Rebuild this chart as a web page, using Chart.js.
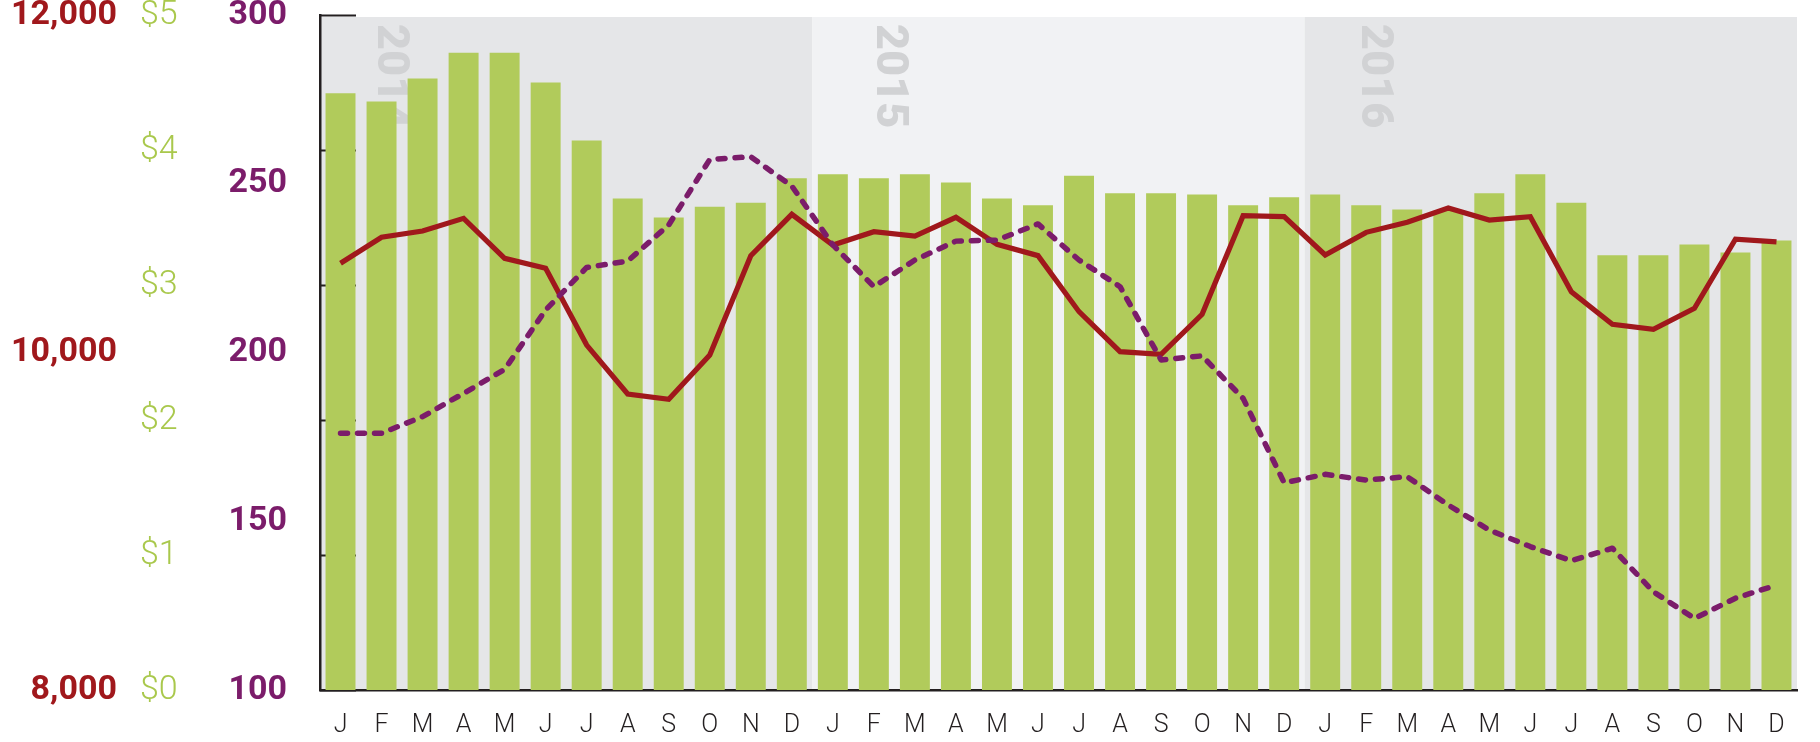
<!DOCTYPE html>
<html lang="en">
<head>
    <meta charset="UTF-8">
    <title>Monthly volume, price and index 2014-2016</title>
    <script src="https://cdn.jsdelivr.net/npm/chart.js"></script>
    <style>
        html, body { margin: 0; padding: 0; background: #ffffff; }
        #chart { display: block; }
    </style>
</head>
<body>
    <canvas id="chart" width="1820" height="742"></canvas>

    <script>
        // data
        const years = ['2014', '2015', '2016'];
        const monthLetters = [
            'J','F','M','A','M','J','J','A','S','O','N','D',
            'J','F','M','A','M','J','J','A','S','O','N','D',
            'J','F','M','A','M','J','J','A','S','O','N','D'
        ];
        const priceBars = [
            4.42, 4.36, 4.53, 4.72, 4.72, 4.50, 4.07, 3.64, 3.50, 3.58, 3.61, 3.79,
            3.82, 3.79, 3.82, 3.76, 3.64, 3.59, 3.81, 3.68, 3.68, 3.67, 3.59, 3.65,
            3.67, 3.59, 3.56, 3.55, 3.68, 3.82, 3.61, 3.22, 3.22, 3.30, 3.24, 3.33
        ];
        const unitsLine = [
            10529, 10683, 10720, 10795, 10558, 10499, 10044, 9754, 9723, 9985, 10574, 10819,
            10637, 10716, 10690, 10801, 10641, 10574, 10242, 10005, 9989, 10226, 10811, 10805,
            10578, 10712, 10772, 10856, 10785, 10805, 10360, 10167, 10137, 10262, 10671, 10655
        ];
        const indexLine = [
            176.1, 176.1, 181.0, 187.9, 195.0, 212.6, 225.2, 227.1, 237.8, 257.2, 258.0, 249.3,
            231.9, 219.5, 227.4, 233.0, 233.3, 238.1, 227.4, 219.5, 197.8, 199.0, 186.4, 161.4,
            163.9, 162.2, 163.2, 154.8, 147.4, 142.5, 138.3, 142.0, 129.1, 121.2, 127.2, 131.1
        ];
        const unitsTicks = [8000, 10000, 12000];
        const priceTicks = [0, 1, 2, 3, 4, 5];
        const indexTicks = [100, 150, 200, 250, 300];

        const RED = '#a0181c';
        const GREEN = '#b1cb5b';
        const GREEN_TEXT = '#a9c84c';
        const PURPLE = '#7b1c6a';
        const INK = '#231f20';

        const fixTicks = (list) => (scale) => {
            scale.ticks = list.map(v => ({ value: v }));
        };
        const fixWidth = (w) => (scale) => {
            scale.width = w;
            scale.paddingTop = 0;
            scale.paddingBottom = 0;
        };

        // shaded year bands + rotated year labels
        const yearBands = {
            id: 'yearBands',
            beforeDraw(chart) {
                const { ctx, chartArea } = chart;
                const x = chart.scales.x;
                const step = x.getPixelForValue(1) - x.getPixelForValue(0);
                ctx.save();
                years.forEach((yr, i) => {
                    const left = i === 0 ? chartArea.left : x.getPixelForValue(i * 12) - step / 2;
                    const right = i === years.length - 1 ? chartArea.right : x.getPixelForValue(i * 12 + 12) - step / 2;
                    ctx.fillStyle = i % 2 === 1 ? '#f1f2f4' : '#e5e6e8';
                    ctx.fillRect(left, chartArea.top + 2, right - left, chartArea.bottom - chartArea.top - 2);
                });
                ctx.fillStyle = '#d1d2d4';
                ctx.font = '900 45px Roboto';
                ctx.textAlign = 'left';
                ctx.textBaseline = 'middle';
                years.forEach((yr, i) => {
                    const start = x.getPixelForValue(i * 12) - step / 2;
                    ctx.save();
                    ctx.translate(start + (i === 1 ? 76 : 69), chartArea.top + 9);
                    ctx.rotate(Math.PI / 2);
                    ctx.fillText(yr, 0, 0);
                    ctx.restore();
                });
                ctx.restore();
            },
            beforeDatasetsDraw(chart) {
                // short inner ticks on the price scale
                const { ctx, chartArea } = chart;
                const y = chart.scales.yPrice;
                ctx.save();
                ctx.strokeStyle = INK;
                ctx.lineWidth = 2;
                priceTicks.forEach(v => {
                    const py = Math.round(y.getPixelForValue(v)) + 0.5;
                    ctx.beginPath();
                    ctx.moveTo(chartArea.left, py);
                    ctx.lineTo(chartArea.left + 36, py);
                    ctx.stroke();
                });
                ctx.restore();
            }
        };

        const ctx = document.getElementById('chart').getContext('2d');
        new Chart(ctx, {
            type: 'bar',
            data: {
                labels: monthLetters,
                datasets: [
                    {
                        type: 'line',
                        label: 'Index',
                        data: indexLine,
                        yAxisID: 'yIdx',
                        borderColor: PURPLE,
                        borderWidth: 5.5,
                        borderDash: [7, 10],
                        borderCapStyle: 'round',
                        borderJoinStyle: 'round',
                        pointRadius: 0,
                        tension: 0,
                        order: 1
                    },
                    {
                        type: 'line',
                        label: 'Units',
                        data: unitsLine,
                        yAxisID: 'yUnits',
                        borderColor: RED,
                        borderWidth: 5.2,
                        pointRadius: 0,
                        tension: 0,
                        order: 2
                    },
                    {
                        type: 'bar',
                        label: 'Price',
                        data: priceBars,
                        yAxisID: 'yPrice',
                        backgroundColor: GREEN,
                        categoryPercentage: 1,
                        barPercentage: 0.73,
                        order: 3
                    }
                ]
            },
            options: {
                responsive: false,
                animation: false,
                events: [],
                layout: { padding: { top: 15, right: 23, left: 0, bottom: 0 } },
                plugins: {
                    legend: { display: false },
                    tooltip: { enabled: false }
                },
                scales: {
                    x: {
                        type: 'category',
                        offset: true,
                        grid: { display: false },
                        border: { display: true, color: INK, width: 2.5 },
                        ticks: {
                            color: INK,
                            font: { family: 'Roboto', weight: 300, size: 25 },
                            padding: 13,
                            autoSkip: false,
                            maxRotation: 0
                        },
                        afterFit: (scale) => {
                            scale.height = 52;
                            scale.paddingLeft = 0;
                            scale.paddingRight = 0;
                        }
                    },
                    yUnits: {
                        position: 'left',
                        weight: 3,
                        min: 8000,
                        max: 12000,
                        grid: { display: false },
                        border: { display: false },
                        afterBuildTicks: fixTicks(unitsTicks),
                        afterFit: fixWidth(140),
                        ticks: {
                            color: RED,
                            font: { family: 'Roboto', weight: 'bold', size: 34 },
                            padding: 15,
                            callback: (v) => v.toLocaleString('en-US')
                        }
                    },
                    yPrice: {
                        position: 'left',
                        weight: 2,
                        min: 0,
                        max: 5,
                        grid: { display: false },
                        border: { display: false },
                        afterBuildTicks: fixTicks(priceTicks),
                        afterFit: fixWidth(80),
                        ticks: {
                            color: GREEN_TEXT,
                            crossAlign: 'far',
                            font: { family: 'Roboto', weight: 300, size: 34 },
                            callback: (v) => '$' + v
                        }
                    },
                    yIdx: {
                        position: 'left',
                        weight: 1,
                        min: 100,
                        max: 300,
                        grid: { display: false },
                        border: { display: true, color: INK, width: 2.5 },
                        afterBuildTicks: fixTicks(indexTicks),
                        afterFit: fixWidth(100),
                        ticks: {
                            color: PURPLE,
                            font: { family: 'Roboto', weight: 'bold', size: 34 },
                            padding: 25
                        }
                    }
                }
            },
            plugins: [yearBands]
        });
    </script>
</body>
</html>
